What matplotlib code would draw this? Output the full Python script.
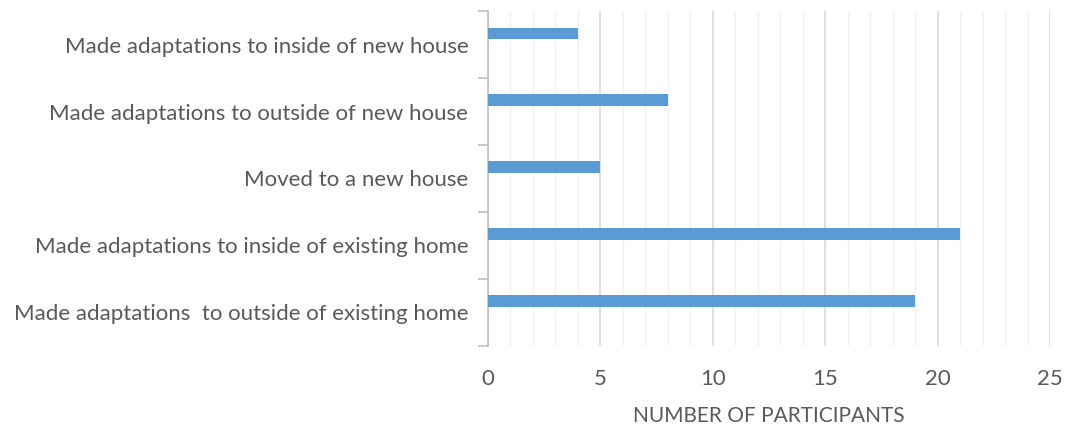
import matplotlib
matplotlib.use("Agg")
import matplotlib.pyplot as plt
import numpy as np

# survey responses, listed bottom to top as drawn
categories = [
    "Made adaptations  to outside of existing home",
    "Made adaptations to inside of existing home",
    "Moved to a new house",
    "Made adaptations to outside of new house",
    "Made adaptations to inside of new house",
]
participants = [19, 21, 5, 8, 4]
x_ticks = [0, 5, 10, 15, 20, 25]

text_color = "#595959"
bar_color = "#5B9BD5"

plt.rcParams["font.family"] = ["Lato", "DejaVu Sans"]

fig = plt.figure(figsize=(10.65, 4.28), dpi=100)
ax = fig.add_axes([0.458, 0.192, 0.528, 0.782])

y = np.arange(len(categories))
ax.barh(y + 0.17, participants, height=0.17, color=bar_color, zorder=3)

ax.set_xlim(0, 25)
ax.set_ylim(-0.5, len(categories) - 0.5)

# light grid every unit, slightly darker every five
for v in range(0, 26):
    if v % 5 == 0:
        ax.axvline(v, color="#d9d9d9", lw=1.2, zorder=1)
    else:
        ax.axvline(v, color="#f0f0f0", lw=1.0, zorder=1)

ax.set_xticks(x_ticks)
ax.set_xticklabels([str(t) for t in x_ticks], fontsize=16, color=text_color)
ax.tick_params(axis="x", length=0, pad=17)

ax.set_yticks(y)
ax.set_yticklabels(categories, fontsize=16, color=text_color)
ax.tick_params(axis="y", which="major", length=0, pad=14)
ax.set_yticks(np.arange(-0.5, len(categories)), minor=True)
ax.tick_params(axis="y", which="minor", length=7, color="#bfbfbf", width=1.2)

for side in ["top", "right", "bottom"]:
    ax.spines[side].set_visible(False)
ax.spines["left"].set_color("#bfbfbf")
ax.spines["left"].set_linewidth(1.2)

ax.set_xlabel("NUMBER OF PARTICIPANTS", fontsize=15, color=text_color, labelpad=12)

fig.savefig("out.png", dpi=100)
